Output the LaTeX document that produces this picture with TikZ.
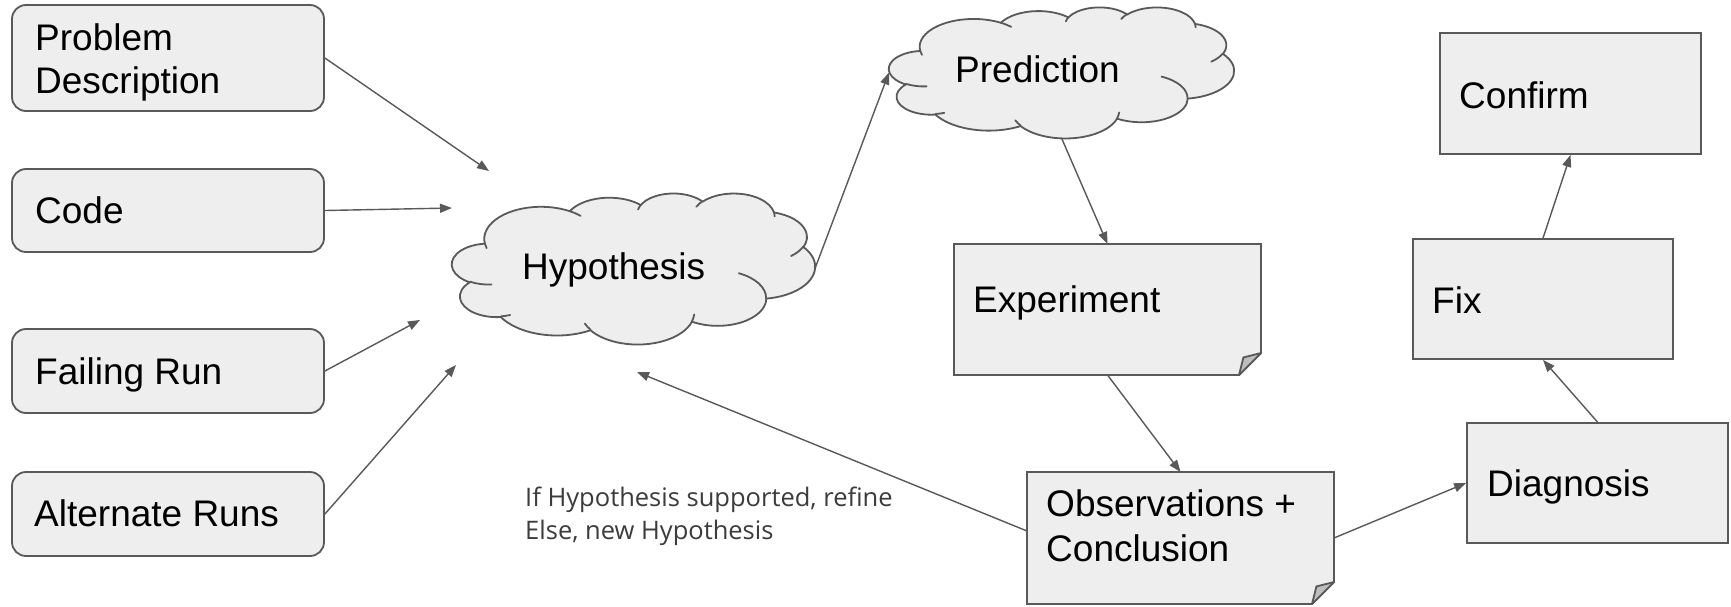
\documentclass[tikz,border=0pt]{standalone}
\usepackage{fontspec}
\setmainfont{Liberation Sans}
\newfontfamily\notefont{Open Sans}
\usetikzlibrary{arrows.meta}

\definecolor{boxfill}{HTML}{EEEEEE}
\definecolor{edge}{HTML}{595959}
\definecolor{foldfill}{HTML}{BEBEBE}
\definecolor{notecol}{HTML}{3C3C3C}

% One elliptic arc of the cloud outline: x radius, y radius,
% start angle and sweep, both angles measured as seen on the page.
\newcommand\mycloudarc[4]{%
  \pgfmathsetmacro\cta{atan2((#1)*sin(#3),(#2)*cos(#3))}%
  \pgfmathsetmacro\ctb{atan2((#1)*sin(#3+#4),(#2)*cos(#3+#4))}%
  \pgfmathsetmacro\ctd{\ctb-\cta}%
  \pgfmathsetmacro\ctd{\ctd<0 ? \ctd+360 : \ctd}%
  \pgfmathsetmacro\cte{\cta+\ctd}%
  \pgfpatharc{\cta}{\cte}{#1pt and #2pt}}

% Cloud in a 432 x 432 design box, stretched to W x H at (x0,y0)
\newcommand\mycloudshape[4]{%
  \begin{scope}[shift={(#1,#2)},xscale=#3/432,yscale=#4/432]
    \pgfpathmoveto{\pgfqpoint{39pt}{143.7pt}}%
    \mycloudarc{67.53}{91.90}{-190.4875}{123.7805}%
    \mycloudarc{53.33}{72.67}{-144.1024}{89.9452}%
    \mycloudarc{43.65}{59.45}{-145.8079}{99.7230}%
    \mycloudarc{48.57}{65.95}{-130.9861}{117.2417}%
    \mycloudarc{53.33}{72.73}{-78.7089}{109.0269}%
    \mycloudarc{67.75}{92.20}{-46.2673}{130.2690}%
    \mycloudarc{57.85}{78.67}{0.6250}{114.0333}%
    \mycloudarc{67.52}{92.15}{22.4516}{115.1726}%
    \mycloudarc{77.20}{105.43}{66.2426}{75.7110}%
    \mycloudarc{43.60}{59.18}{-274.9421}{146.7356}%
    \mycloudarc{43.45}{59.45}{-246.8285}{152.5189}%
    \pgfpathclose
    \pgfsetfillcolor{boxfill}\pgfsetstrokecolor{edge}%
    \pgfsetlinewidth{1.8pt}\pgfsetroundjoin\pgfsetroundcap
    \pgfusepath{fill,stroke}%
    % inner creases of the puffs
    \pgfpathmoveto{\pgfqpoint{46.93pt}{261.77pt}}\mycloudarc{43.45}{59.45}{86.7420}{26.4295}%
    \pgfpathmoveto{\pgfqpoint{69.28pt}{348.99pt}}\mycloudarc{43.60}{59.18}{73.6105}{11.4475}%
    \pgfpathmoveto{\pgfqpoint{164.78pt}{390.90pt}}\mycloudarc{67.52}{92.15}{137.6242}{14.0811}%
    \pgfpathmoveto{\pgfqpoint{288.27pt}{347.51pt}}\mycloudarc{67.52}{92.15}{6.4533}{15.9984}%
    \pgfpathmoveto{\pgfqpoint{341.29pt}{229.54pt}}\mycloudarc{57.85}{78.67}{-70.2924}{70.9174}%
    \pgfpathmoveto{\pgfqpoint{417.98pt}{153.54pt}}\mycloudarc{53.33}{72.73}{30.3180}{27.7515}%
    \pgfpathmoveto{\pgfqpoint{383.24pt}{54.26pt}}\mycloudarc{48.57}{65.95}{-13.7443}{14.8589}%
    \pgfpathmoveto{\pgfqpoint{290.78pt}{39.52pt}}\mycloudarc{48.57}{65.95}{-149.1815}{18.1954}%
    \pgfpathmoveto{\pgfqpoint{221.41pt}{47.20pt}}\mycloudarc{43.65}{59.45}{-163.4943}{17.6864}%
    \pgfpathmoveto{\pgfqpoint{140.00pt}{51.92pt}}\mycloudarc{67.53}{91.90}{-66.7070}{12.3194}%
    \pgfpathmoveto{\pgfqpoint{41.27pt}{157.89pt}}\mycloudarc{67.53}{91.90}{157.6544}{11.8582}%
    \pgfusepath{stroke}%
  \end{scope}}

\begin{document}
\begin{tikzpicture}[x=1pt,y=1pt,yscale=-1,
  rbox/.style={draw=edge,fill=boxfill,line width=1.8pt,rounded corners=14pt,inner sep=0pt},
  sbox/.style={draw=edge,fill=boxfill,line width=1.8pt,inner sep=0pt},
  frame/.style={inner sep=0pt,outer sep=0pt},
  lbl/.style={anchor=base west,inner sep=0pt,font=\fontsize{37}{43}\selectfont},
  note/.style={anchor=base west,inner sep=0pt,text=notecol,font=\notefont\fontsize{25.5}{32}\selectfont},
  fold/.style={fill=foldfill,draw=edge,line width=1.8pt,line join=round},
  folded/.style={fill=boxfill,draw=edge,line width=1.8pt},
  conn/.style={draw=edge,line width=1.4pt,-{Triangle[length=12pt,width=9pt]}}]

\fill[white] (0,0) rectangle (1731,606);
\useasboundingbox (0,0) rectangle (1731,606);

% inputs on the left
\node[rbox,minimum width=312pt,minimum height=106pt] (prob) at (168,58) {};
\node[rbox,minimum width=312pt,minimum height=83pt]  (code) at (168,210.5) {};
\node[rbox,minimum width=312pt,minimum height=84pt]  (fail) at (168,371) {};
\node[rbox,minimum width=312pt,minimum height=84pt]  (alt)  at (168,514) {};
\node[lbl] (probA) at (35,50) {Problem};
\node[lbl] (probB) at (35,93) {Description};
\node[lbl] (codeL) at (35,223) {Code};
\node[lbl] (failL) at (35,384) {Failing Run};
\node[lbl] (altL)  at (34,526) {Alternate Runs};

% clouds
\mycloudshape{452}{193}{363}{151}
\mycloudshape{889}{7}{345}{131}
\node[frame,minimum width=363pt,minimum height=151pt] (hyp)  at (633.5,268.5) {};
\node[frame,minimum width=345pt,minimum height=131pt] (pred) at (1061.5,72.5) {};
\node[lbl] (hypL)  at (522,279) {Hypothesis};
\node[lbl] (predL) at (955,82) {Prediction};

% folded-corner notes
\draw[folded] (954,244) -- (1261,244) -- (1261,353) -- (1239,375) -- (954,375) -- cycle;
\draw[fold] (1239,375) -- (1243.4,357.4) -- (1261,353) -- cycle;
\node[frame,minimum width=307pt,minimum height=131pt] (exp) at (1107.5,309.5) {};
\node[lbl] (expL) at (973,312) {Experiment};

\draw[folded] (1027,472) -- (1334,472) -- (1334,582) -- (1312,604) -- (1027,604) -- cycle;
\draw[fold] (1312,604) -- (1316.4,586.4) -- (1334,582) -- cycle;
\node[frame,minimum width=307pt,minimum height=132pt] (obs) at (1180.5,538) {};
\node[lbl] (obsA) at (1046,516) {Observations +};
\node[lbl] (obsB) at (1046,561) {Conclusion};

% outcome boxes on the right
\node[sbox,minimum width=261pt,minimum height=121pt] (conf) at (1570.5,93.5) {};
\node[sbox,minimum width=260pt,minimum height=120pt] (fix)  at (1543,299) {};
\node[sbox,minimum width=261pt,minimum height=120pt] (diag) at (1597.5,483) {};
\node[lbl] (confL) at (1459,108) {Confirm};
\node[lbl] (fixL)  at (1432,313) {Fix};
\node[lbl] (diagL) at (1487,496) {Diagnosis};

% annotation on the feedback arrow
\node[note] (noteA) at (525,506) {If Hypothesis supported, refine};
\node[note] (noteB) at (525,539.5) {Else, new Hypothesis};

% free ends of the arrows that stop short of the hypothesis cloud
\coordinate (inA) at (489,171);
\coordinate (inB) at (452,208);
\coordinate (inC) at (420,320);
\coordinate (inD) at (456,365);
\coordinate (back) at (637,372);
\coordinate (obsOut) at (1027,531);

\draw[conn] (prob.east) -- (inA);
\draw[conn] (code.east) -- (inB);
\draw[conn] (fail.east) -- (inC);
\draw[conn] (alt.east)  -- (inD);
\draw[conn] (hyp.east)  -- (pred.west);
\draw[conn] (pred.south) -- (exp.north);
\draw[conn] (exp.south) -- (obs.north);
\draw[conn] (obsOut) -- (back);
\draw[conn] (obs.east) -- (diag.west);
\draw[conn] (diag.north) -- (fix.south);
\draw[conn] (fix.north) -- (conf.south);
\end{tikzpicture}
\end{document}
